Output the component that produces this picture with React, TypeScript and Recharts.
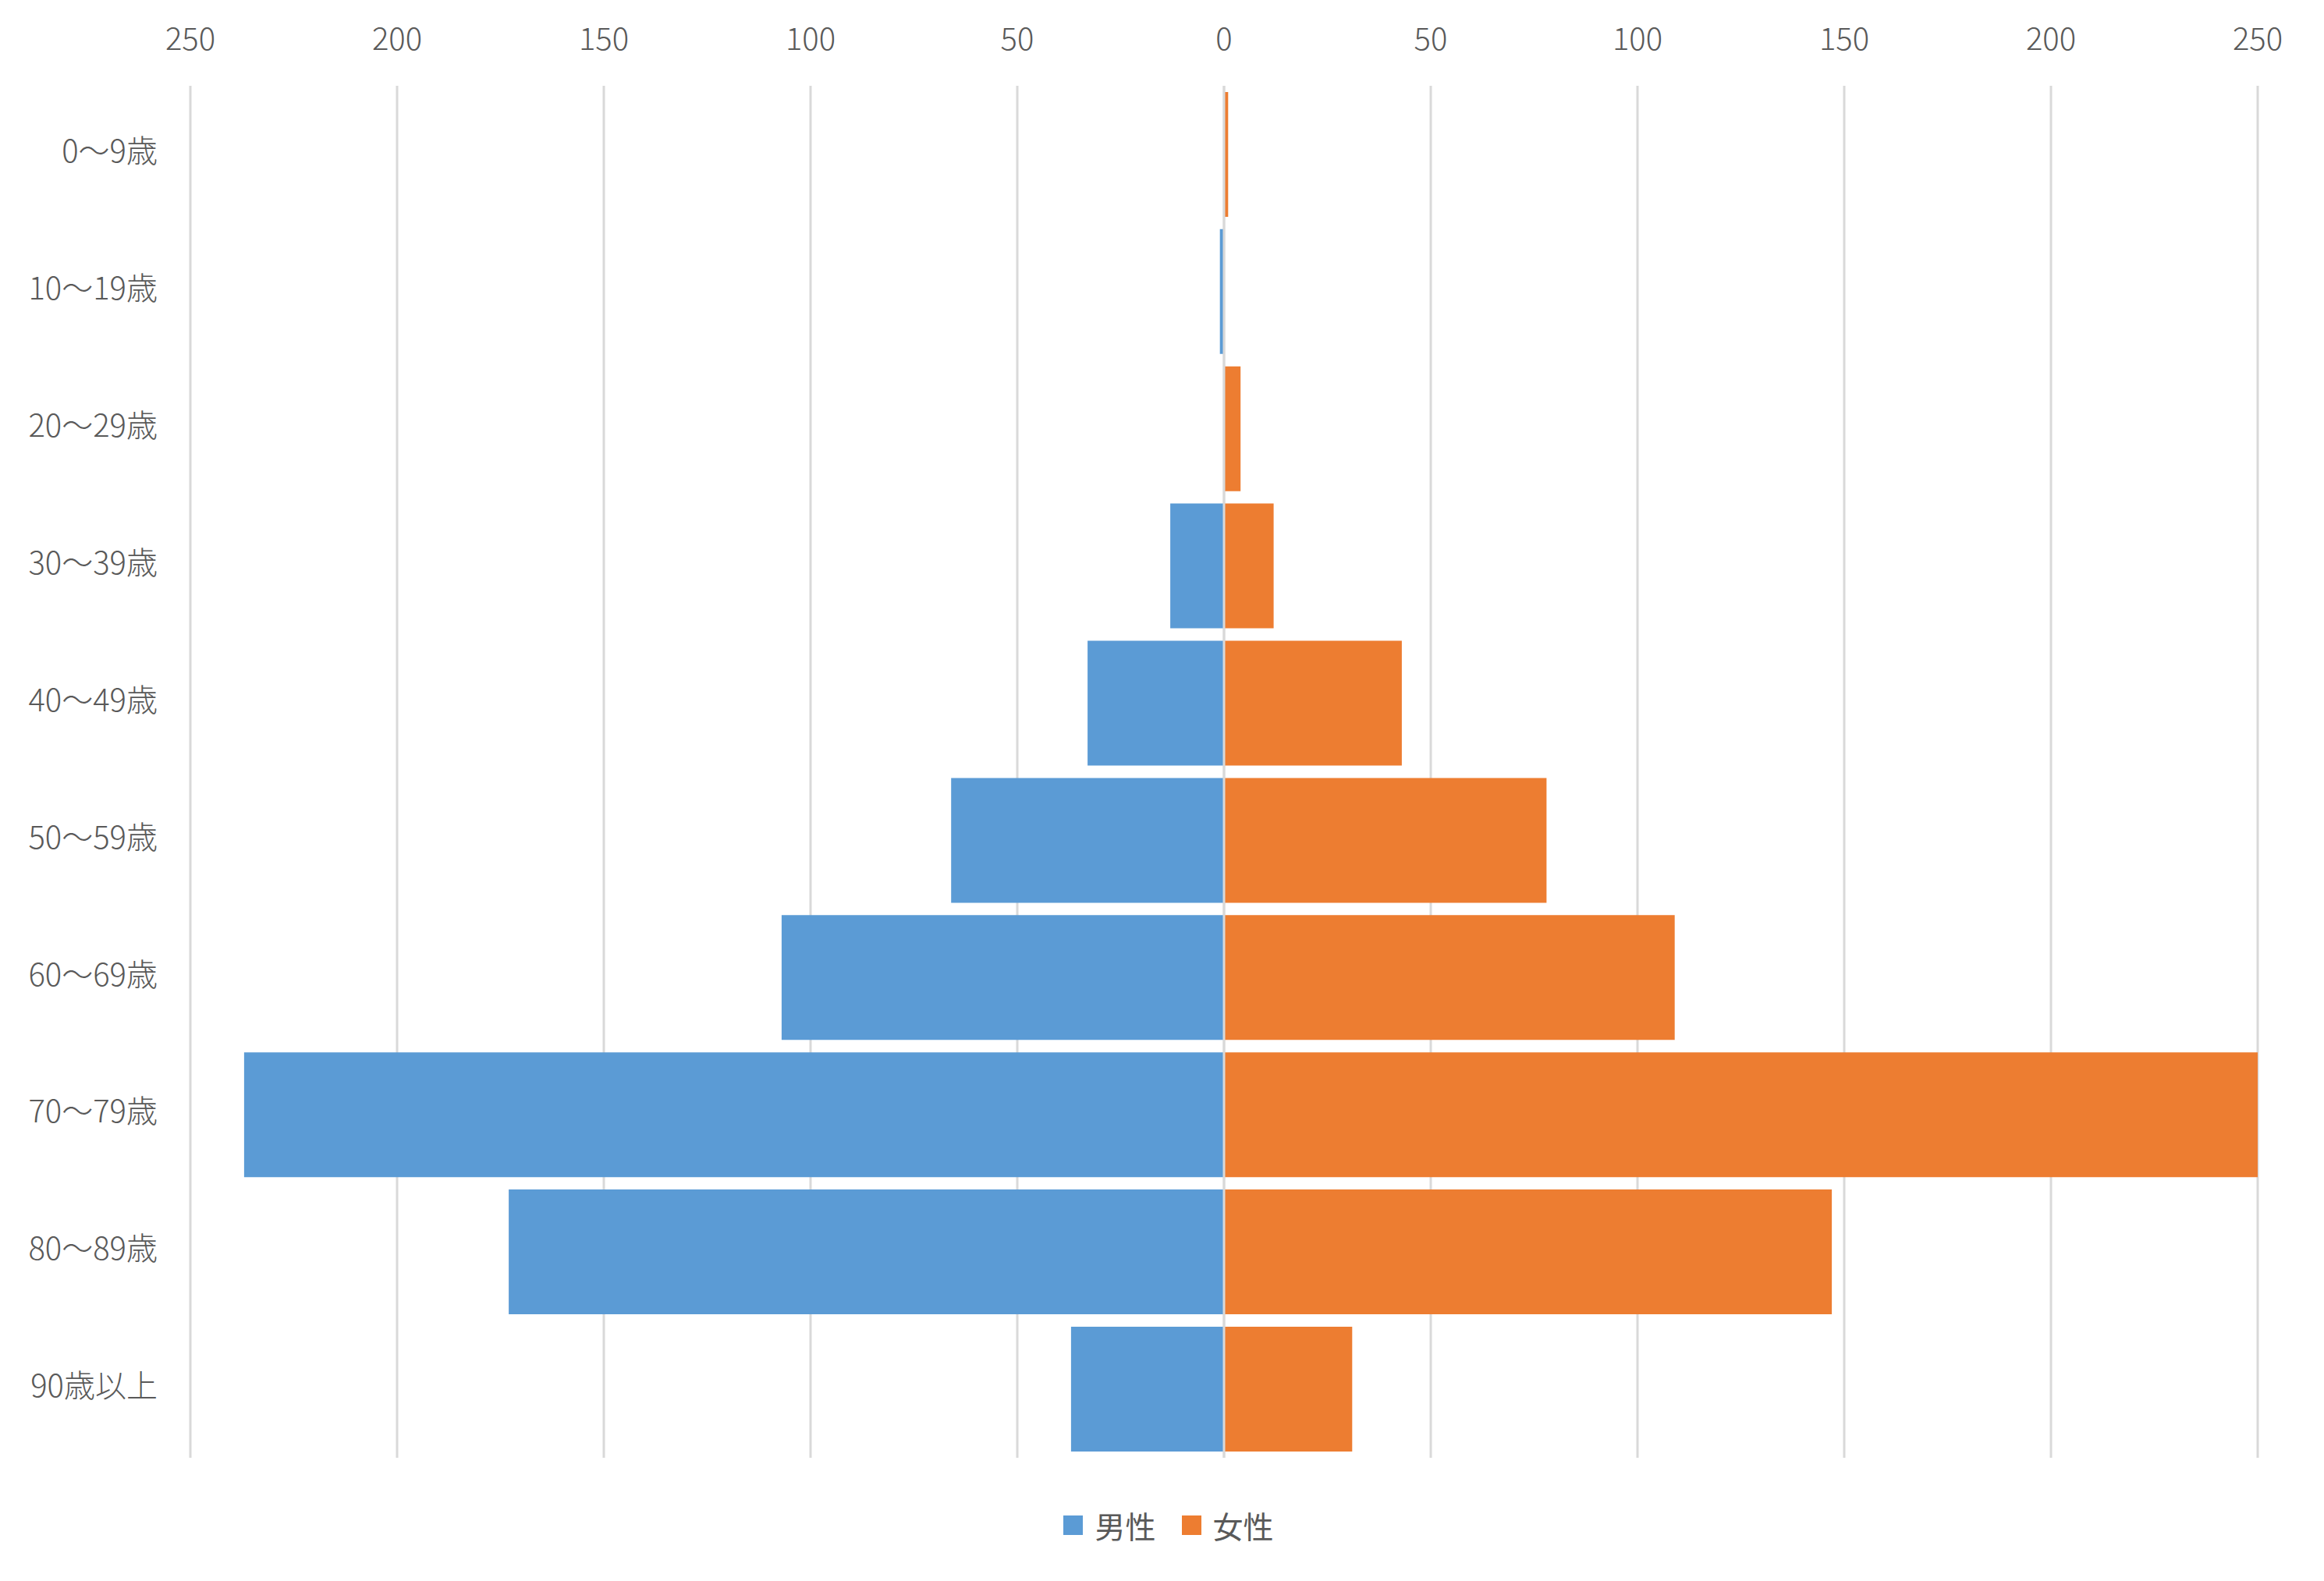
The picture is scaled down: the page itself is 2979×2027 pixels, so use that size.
import {
  Bar,
  BarChart,
  CartesianGrid,
  Legend,
  ReferenceLine,
  XAxis,
  YAxis,
} from "recharts";

// 年齢階級別の人数（男性は左側に描くため負値へ変換）
const AGE_GROUPS = [
  "0～9歳",
  "10～19歳",
  "20～29歳",
  "30～39歳",
  "40～49歳",
  "50～59歳",
  "60～69歳",
  "70～79歳",
  "80～89歳",
  "90歳以上",
];
const MALE = [0, 1, 0, 13, 33, 66, 107, 237, 173, 37];
const FEMALE = [1, 0, 4, 12, 43, 78, 109, 250, 147, 31];
const X_TICKS = [-250, -200, -150, -100, -50, 0, 50, 100, 150, 200, 250];
const LEGEND_ORDER = ["男性", "女性"];

const COLORS = {
  male: "#5B9BD5",
  female: "#ED7D31",
  grid: "#D9D9D9",
  text: "#595959",
} as const;

const FONT = "'Noto Sans CJK JP', 'Noto Sans', sans-serif";

const W = 2979;
const H = 2027;

type Row = { age: string; male: number; female: number };

const data: Row[] = AGE_GROUPS.map((age, i) => ({
  age,
  male: -MALE[i],
  female: FEMALE[i],
}));

function LegendContent({ payload }: { payload?: Array<{ value: string; color: string }> }) {
  const items = [...(payload ?? [])].sort(
    (a, b) => LEGEND_ORDER.indexOf(a.value) - LEGEND_ORDER.indexOf(b.value),
  );
  return (
    <div
      style={{
        display: "flex",
        justifyContent: "center",
        alignItems: "center",
        paddingLeft: 17,
        fontFamily: FONT,
        fontSize: 39,
        color: COLORS.text,
        lineHeight: "48px",
      }}
    >
      {items.map((p, i) => (
        <div key={p.value} style={{ display: "flex", alignItems: "center", marginLeft: i ? 33 : 0 }}>
          <span style={{ display: "inline-block", width: 25, height: 25, background: p.color, marginRight: 15 }} />
          <span>{p.value}</span>
        </div>
      ))}
    </div>
  );
}

export default function App() {
  return (
    <div style={{ position: "absolute", left: 0, top: 0, width: W, height: H, background: "#fff" }}>
      <BarChart
        width={W}
        height={H}
        data={data}
        layout="vertical"
        stackOffset="sign"
        barCategoryGap="4.5%"
        margin={{ top: 0, right: 85, bottom: 158, left: 0 }}
        style={{ fontFamily: FONT }}
      >
        <CartesianGrid horizontal={false} stroke={COLORS.grid} strokeWidth={3} />
        <XAxis
          type="number"
          orientation="top"
          domain={[-250, 250]}
          ticks={X_TICKS}
          tickFormatter={(v: number) => String(Math.abs(v))}
          axisLine={false}
          tickLine={false}
          height={110}
          tickMargin={40}
          tick={{ fill: COLORS.text, fontSize: 40, fontWeight: 300 }}
          allowDataOverflow
        />
        <YAxis
          type="category"
          dataKey="age"
          width={244}
          axisLine={false}
          tickLine={false}
          tickMargin={36}
          interval={0}
          tick={{ fill: COLORS.text, fontSize: 40, fontWeight: 300, dy: -4 }}
        />
        <Legend
          layout="horizontal"
          verticalAlign="middle"
          align="center"
          wrapperStyle={{ top: 1931, left: 0, width: W }}
          content={<LegendContent />}
        />
        <Bar dataKey="male" name="男性" stackId="p" fill={COLORS.male} isAnimationActive={false} />
        <Bar dataKey="female" name="女性" stackId="p" fill={COLORS.female} isAnimationActive={false} />
        <ReferenceLine x={0} stroke={COLORS.grid} strokeWidth={3} />
      </BarChart>
    </div>
  );
}
